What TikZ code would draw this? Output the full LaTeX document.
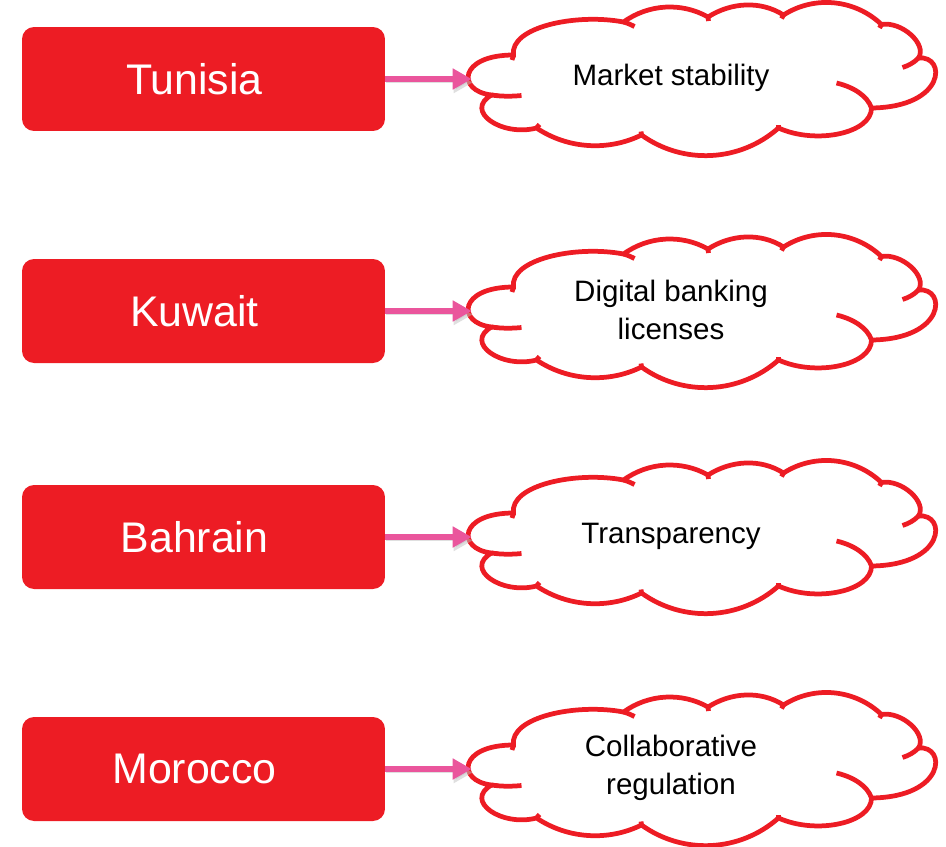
\documentclass[tikz,border=0pt]{standalone}
\usepackage{fontspec}
\setmainfont{Liberation Sans}
\usetikzlibrary{arrows.meta}
\definecolor{boxred}{HTML}{ED1C24}
\definecolor{arrowpink}{HTML}{EA559C}
\tikzstyle{country}=[fill=boxred,rounded corners=0.24cm,minimum width=7.26cm,minimum height=2.08cm,text=white,font=\fontsize{24.4}{29}\selectfont]
\tikzstyle{idea}=[minimum width=9.34cm,minimum height=3.04cm,inner sep=0pt]
\tikzstyle{ideatext}=[align=center,font=\fontsize{16.8}{21.5}\selectfont]
\tikzstyle{cloudline}=[draw=boxred,line width=0.095cm]
\tikzstyle{link}=[draw=arrowpink,line width=0.11cm,-{Triangle[length=0.38cm,width=0.4cm]},
  preaction={draw=black!25,opacity=0.5,transform canvas={shift={(0.02cm,-0.07cm)}}}]

% cloud outline, in px round the centre of the cloud
\newcommand{\bubble}{%
  \draw[cloudline,fill=white] (-210,16)
    .. controls (-245,12) and (-243,-24) .. (-188,-24)
    .. controls (-192,-52) and (-125,-66) .. (-78,-57)
    .. controls (-53,-75) and (-20,-77) .. (6.5,-62)
    .. controls (29.5,-76.7) and (59,-78.7) .. (82,-64)
    .. controls (112.8,-83.8) and (153.5,-79.8) .. (180,-54.5)
    .. controls (200,-58) and (226,-35) .. (217,-21)
    .. controls (245,-24) and (245,28) .. (170,29)
    .. controls (170,54) and (115,66) .. (77,49)
    .. controls (38.6,83) and (-18.3,86) .. (-60,56)
    .. controls (-93.6,72.5) and (-133.9,69.8) .. (-165,49)
    .. controls (-200,58) and (-238,32) .. (-210,16) -- cycle;
  % inner hooks
  \draw[cloudline] (-210,16) .. controls (-200,17.5) and (-190,17.5) .. (-180,16.5);
  \draw[cloudline] (-78,-57) .. controls (-74,-56) and (-70,-54) .. (-67,-52.5);
  \draw[cloudline] (217,-21) .. controls (212,-16) and (207,-13.5) .. (201,-11.5);
  \draw[cloudline] (135,4) .. controls (152,8) and (166,17) .. (170,29);
  \draw[cloudline] (-188,-24) -- (-189.5,-19);
  \draw[cloudline] (6.5,-62) -- (7,-58);
  \draw[cloudline] (82,-64) -- (80,-60.5);
  \draw[cloudline] (180,-54.5) -- (178,-51);
  \draw[cloudline] (77,49) -- (77,45.5);
  \draw[cloudline] (-60,56) -- (-60.5,52.5);
  \draw[cloudline] (-165,49) -- (-162,45.5);
}

\begin{document}
\begin{tikzpicture}[x=0.02cm,y=-0.02cm]
  \useasboundingbox (0,0) rectangle (946,846);
  \foreach \i/\y/\cname/\ctext in {1/79/Tunisia/Market stability,
      2/311/Kuwait/{Digital banking\\licenses},
      3/537/Bahrain/Transparency,
      4/769/Morocco/{Collaborative\\regulation}}{
    \node[country] (c\i) at (203.5,\y) {\cname\hspace*{0.36cm}};
    \node[idea] (d\i) at (701.5,\y) {};
    \begin{scope}[shift={(d\i.center)}]
      \bubble
    \end{scope}
    \node[ideatext] (t\i) at (671,\y-1) {\ctext};
    \draw[link] (c\i) -- ([xshift=0.08cm]d\i.west |- c\i);
  }
\end{tikzpicture}
\end{document}
